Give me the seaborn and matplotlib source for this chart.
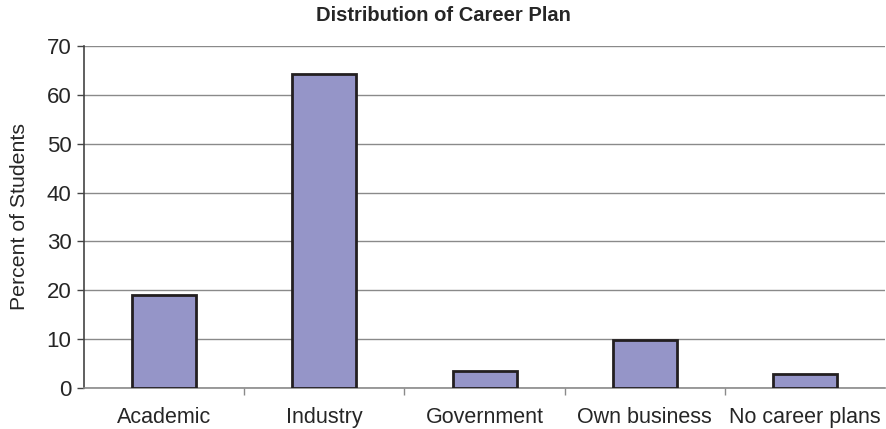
import matplotlib
matplotlib.use("Agg")
import matplotlib.pyplot as plt
import seaborn as sns
import pandas as pd
from matplotlib.ticker import FixedLocator

categories = ["Academic", "Industry", "Government", "Own business", "No career plans"]
percents = [19.0, 64.3, 3.5, 9.8, 2.9]

df = pd.DataFrame({"plan": categories, "percent": percents})

sns.set_style("white")
plt.rcParams["font.family"] = ["Liberation Sans", "DejaVu Sans"]

fig = plt.figure(figsize=(8.87, 4.29), dpi=100)
ax = fig.add_axes([0.0947, 0.0956, 0.9033, 0.7972])

sns.barplot(data=df, x="plan", y="percent", color="#9595c8", width=0.4,
            edgecolor="#231f20", linewidth=2, saturation=1, ax=ax, zorder=3)

ax.set_ylim(0, 70)
ax.set_xlim(-0.5, 4.5)
ax.set_yticks(range(0, 71, 10))
ax.yaxis.grid(True, color="#8a8a8a", linewidth=1)
ax.set_axisbelow(True)

for s in ["top", "right"]:
    ax.spines[s].set_visible(False)
ax.spines["left"].set_color("#444444")
ax.spines["left"].set_linewidth(1.2)
ax.spines["bottom"].set_color("#8a8a8a")
ax.spines["bottom"].set_linewidth(1.2)

ax.tick_params(axis="y", which="major", left=True, length=5, width=1,
               color="#444444", labelsize=16, pad=4)
ax.tick_params(axis="x", which="major", bottom=False, labelsize=15.5, pad=10)
ax.xaxis.set_minor_locator(FixedLocator([0.5, 1.5, 2.5, 3.5]))
ax.tick_params(axis="x", which="minor", bottom=True, length=5, width=1,
               color="#8a8a8a")

ax.set_xlabel("")
ax.set_ylabel("Percent of Students", fontsize=15.3, labelpad=13)
fig.suptitle("Distribution of Career Plan", fontsize=14.5, fontweight="bold",
             x=0.5, y=0.985)

fig.savefig("out.png", dpi=100)
